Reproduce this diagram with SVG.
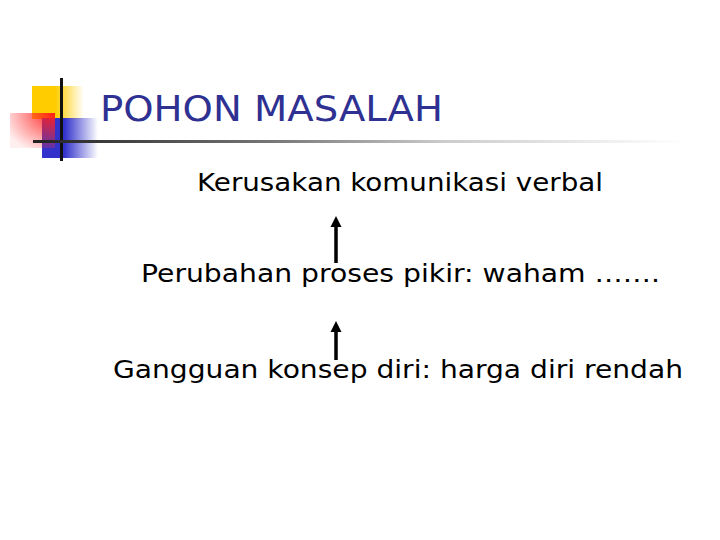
<svg xmlns="http://www.w3.org/2000/svg" width="720" height="540" viewBox="0 0 720 540">
<defs>
<linearGradient id="gy" x1="0" y1="0" x2="1" y2="0"><stop offset="0" stop-color="#FFCC00"/><stop offset="0.45" stop-color="#FFCC00"/><stop offset="1" stop-color="#FFCC00" stop-opacity="0"/></linearGradient>
<linearGradient id="gb" x1="0" y1="0" x2="1" y2="0"><stop offset="0" stop-color="#3333CC"/><stop offset="0.4" stop-color="#3333CC"/><stop offset="1" stop-color="#3333CC" stop-opacity="0"/></linearGradient>
<radialGradient id="gr" cx="1" cy="0" r="1.2"><stop offset="0" stop-color="#FF1A1A"/><stop offset="1" stop-color="#FF3333" stop-opacity="0.08"/></radialGradient>
<linearGradient id="gl" x1="0" y1="0" x2="1" y2="0"><stop offset="0" stop-color="#222222"/><stop offset="0.35" stop-color="#777777"/><stop offset="0.6" stop-color="#cccccc"/><stop offset="0.95" stop-color="#ffffff"/></linearGradient>
<style>
.t{font-family:"DejaVu Sans","Liberation Sans",sans-serif;font-size:24px;fill:#000}
.title{font-family:"DejaVu Sans","Liberation Sans",sans-serif;font-size:36px;fill:#2E3192}
.arr{stroke:#000;stroke-width:3.5;fill:none}
.head{fill:#000}
</style>
</defs>
<rect width="720" height="540" fill="#fff"/>
<g id="decoration">
<rect x="32" y="86" width="52" height="33" fill="url(#gy)"/>
<rect x="42" y="118" width="56" height="40" fill="url(#gb)"/>
<rect x="10" y="113" width="45" height="35" fill="url(#gr)"/>
<rect x="60" y="78" width="3" height="83" fill="#111"/>
<rect x="33" y="140" width="687" height="3" fill="url(#gl)"/>
</g>
<g id="title"><text class="title" x="100" y="121" textLength="343" lengthAdjust="spacingAndGlyphs">POHON MASALAH</text></g>
<g id="n1"><text class="t" x="197" y="191" textLength="406" lengthAdjust="spacingAndGlyphs">Kerusakan komunikasi verbal</text></g>
<g id="n2"><text class="t" x="141" y="282" textLength="519" lengthAdjust="spacingAndGlyphs">Perubahan proses pikir: waham …….</text></g>
<g id="n3"><text class="t" x="113" y="378" textLength="570" lengthAdjust="spacingAndGlyphs">Gangguan konsep diri: harga diri rendah</text></g>
<g id="connectors">
<line class="arr" x1="336" y1="263" x2="336" y2="225"/>
<polygon class="head" points="336,216 330.5,227 341.5,227"/>
<line class="arr" x1="336" y1="360" x2="336" y2="330"/>
<polygon class="head" points="336,321 330.5,332 341.5,332"/>
</g>
</svg>
